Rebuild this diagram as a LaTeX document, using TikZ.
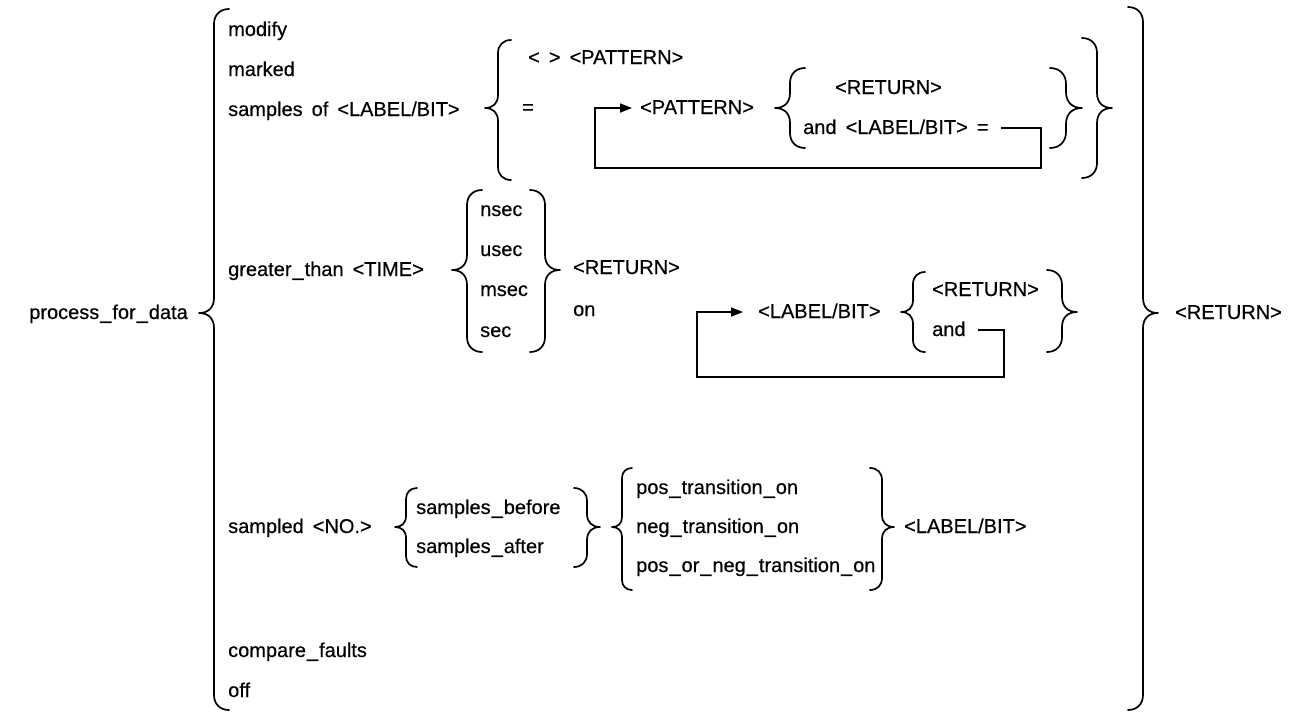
\documentclass[tikz,border=0pt]{standalone}
\usepackage{fontspec}
\setmainfont{Liberation Sans}[FakeBold=0.4]
\usetikzlibrary{arrows.meta}
\newcommand\us{\kern1pt\_\kern1pt}
\newcommand\dfont{\fontsize{20}{24}\selectfont\spaceskip=9pt plus 2pt\relax}
% left brace: #1 x of vertical, #2 top y, #3 tip y, #4 bottom y, #5 width
\newcommand\BrL[5]{%
 \draw[brc] (#1+#5,#2) .. controls (#1+0.4*#5,#2) and (#1,#2+0.4*#5) .. (#1,#2+#5)
  -- (#1,#3-#5) .. controls (#1,#3-0.35*#5) and (#1-0.4*#5,#3) .. (#1-#5,#3)
  .. controls (#1-0.4*#5,#3) and (#1,#3+0.35*#5) .. (#1,#3+#5)
  -- (#1,#4-#5) .. controls (#1,#4-0.4*#5) and (#1+0.4*#5,#4) .. (#1+#5,#4);}
\newcommand\BrR[5]{%
 \draw[brc] (#1-#5,#2) .. controls (#1-0.4*#5,#2) and (#1,#2+0.4*#5) .. (#1,#2+#5)
  -- (#1,#3-#5) .. controls (#1,#3-0.35*#5) and (#1+0.4*#5,#3) .. (#1+#5,#3)
  .. controls (#1+0.4*#5,#3) and (#1,#3+0.35*#5) .. (#1,#3+#5)
  -- (#1,#4-#5) .. controls (#1,#4-0.4*#5) and (#1-0.4*#5,#4) .. (#1-#5,#4);}
\begin{document}
\begin{tikzpicture}[x=1pt,y=-1pt,
  txt/.style={anchor=west, inner sep=0pt, text height=14pt, text depth=2pt, font=\dfont},
  brc/.style={line width=1.7pt, line cap=round, line join=round},
  lp/.style={line width=1.7pt, line join=miter},
  lparr/.style={lp, -{Triangle[length=12pt,width=9pt]}}]
\useasboundingbox (0,0) rectangle (1293,713);

% left root
\node[txt, anchor=east] (pfd) at (188,313) {process\us for\us data};
\BrL{214}{9}{313}{710}{15}

% column of alternatives
\node[txt] (modify) at (228,30) {modify};
\node[txt] (marked) at (228,70) {marked};
\node[txt] (samplesof) at (228,110) {samples of <LABEL/BIT>};
\node[txt] (greater) at (228,270) {greater\us than <TIME>};
\node[txt] (sampled) at (228,527) {sampled <NO.>};
\node[txt] (compare) at (228,651) {compare\us faults};
\node[txt] (off) at (228,691) {off};

% samples of ... branch
\BrL{498}{40}{108}{180}{13}
\node[txt] (neqpat) at (528,58) {< > <PATTERN>};
\node[txt] (eq) at (522,108) {=};
\node[txt] (pat) at (640,108) {<PATTERN>};
\BrL{790}{68}{108}{148}{15}
\node[txt] (ret1) at (835,88) {<RETURN>};
\node[txt] (andlb) at (803,128) {and <LABEL/BIT> =};
\BrR{1066}{68}{108}{148}{16}
\BrR{1097}{38}{108}{178}{15}
\coordinate (l1a) at (1041,168);
\coordinate (l1b) at (595,168);
\draw[lparr, shorten <=12pt, shorten >=8pt] (andlb.east) -| (l1a) -- (l1b) |- (pat.west);

% greater_than branch
\BrL{467}{190}{270}{352}{15}
\node[txt] (nsec) at (480,210) {nsec};
\node[txt] (usec) at (480,250) {usec};
\node[txt] (msec) at (480,290) {msec};
\node[txt] (sec) at (480,331) {sec};
\BrR{545}{190}{270}{352}{15}
\node[txt] (ret2) at (573,268) {<RETURN>};
\node[txt] (on) at (573,310) {on};
\node[txt] (lb2) at (758,312) {<LABEL/BIT>};
\BrL{913}{272}{312}{352}{12}
\node[txt] (ret3) at (932,290) {<RETURN>};
\node[txt] (and2) at (932,330) {and};
\BrR{1062}{270}{312}{352}{15}
\coordinate (l2a) at (1004,377);
\coordinate (l2b) at (697,377);
\draw[lparr, shorten <=12pt, shorten >=15pt] (and2.east) -| (l2a) -- (l2b) |- (lb2.west);

% sampled branch
\BrL{406}{488}{527}{567}{11}
\node[txt] (before) at (416,508) {samples\us before};
\node[txt] (after) at (416,547) {samples\us after};
\BrR{587}{488}{527}{567}{13}
\BrL{622}{468}{527}{590}{10}
\node[txt] (pos) at (636,488) {pos\us transition\us on};
\node[txt] (neg) at (636,527) {neg\us transition\us on};
\node[txt] (posneg) at (636,566) {pos\us or\us neg\us transition\us on};
\BrR{882}{468}{527}{590}{12}
\node[txt] (lb3) at (904,527) {<LABEL/BIT>};

% right root
\BrR{1143}{7}{313}{710}{15}
\node[txt] (ret4) at (1175,313) {<RETURN>};
\end{tikzpicture}
\end{document}
